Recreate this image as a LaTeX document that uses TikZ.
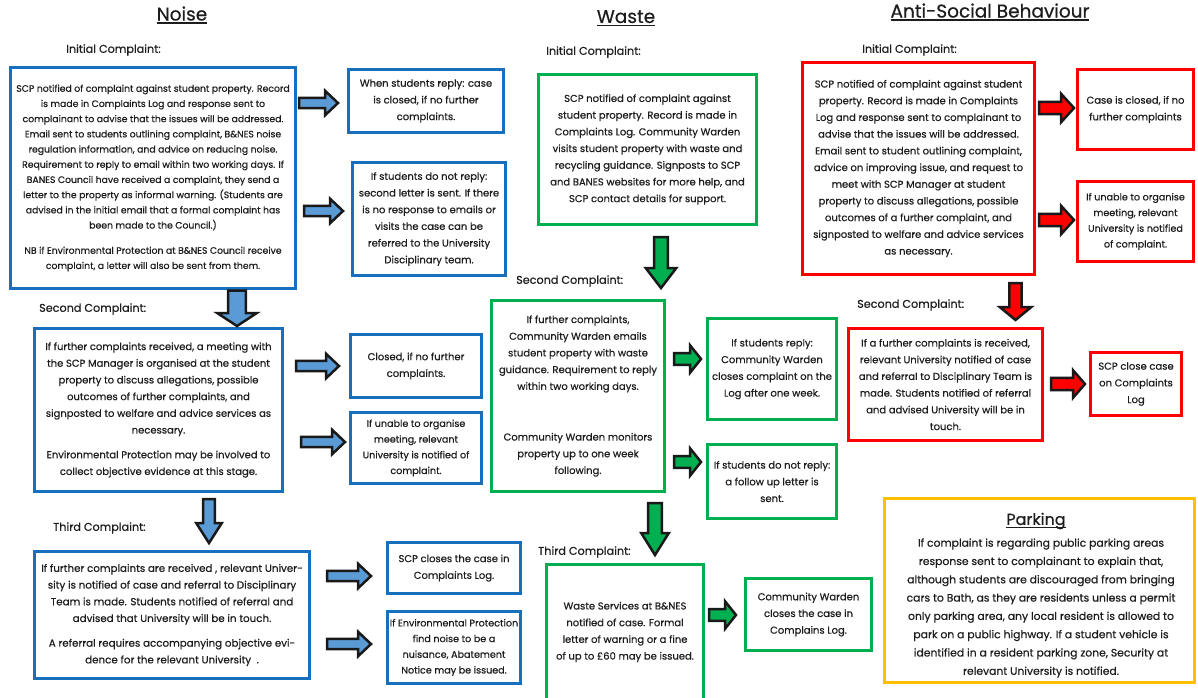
\documentclass[tikz,border=0pt]{standalone}
\usepackage{fontspec}
\setmainfont{Poppins}[FakeBold=0.5]
\usetikzlibrary{calc}
\definecolor{bblue}{RGB}{23,111,190}
\definecolor{afblue}{RGB}{91,155,213}
\definecolor{bgreen}{RGB}{0,176,80}
\definecolor{bred}{RGB}{255,0,0}
\definecolor{borange}{RGB}{255,192,0}
\definecolor{tcol}{RGB}{30,28,28}
\newcommand\myul[1]{\leavevmode\setbox0\hbox{#1}\rlap{\rule[-3pt]{\wd0}{1.3pt}}\box0}
\newcommand\fA{\fontsize{10}{16.7}\selectfont}
\newcommand\fB{\fontsize{9.3}{15.2}\selectfont}
\newcommand\fC{\fontsize{9.6}{15.7}\selectfont}
\newcommand\fP{\fontsize{10.8}{18.3}\selectfont}
\newcommand\fL{\fontsize{11.2}{12}\selectfont}
\newcommand\fT{\fontsize{18.5}{22}\selectfont}
% horizontal block arrow: from, to, y, gap start, gap end, fill, shaft half, head half, head length
\newcommand\hblock[9]{%
  \draw[blockarrow, fill=#6] let \p1=(#1.east), \p2=(#2.west), \p3=(0,#3) in
  (\x1+#4pt,\y3+#7pt) -- (\x2-#5pt-#9pt,\y3+#7pt) -- (\x2-#5pt-#9pt,\y3+#8pt) -- (\x2-#5pt,\y3)
  -- (\x2-#5pt-#9pt,\y3-#8pt) -- (\x2-#5pt-#9pt,\y3-#7pt) -- (\x1+#4pt,\y3-#7pt) -- cycle;}
% vertical block arrow: from, to, x, gap top, gap tip, fill, shaft half, head half, head length
\newcommand\vblock[9]{%
  \draw[blockarrow, fill=#6] let \p1=(#1.south), \p2=(#2.north), \p3=(#3,0) in
  (\x3-#7pt,\y1-#4pt) -- (\x3-#7pt,\y2+#5pt+#9pt) -- (\x3-#8pt,\y2+#5pt+#9pt) -- (\x3,\y2+#5pt)
  -- (\x3+#8pt,\y2+#5pt+#9pt) -- (\x3+#7pt,\y2+#5pt+#9pt) -- (\x3+#7pt,\y1-#4pt) -- cycle;}
\tikzset{
  box/.style={draw=#1, line width=3.2pt, fill=white, align=center, inner sep=0pt, text=tcol, font=\fA},
  blockarrow/.style={draw=black!90, line width=2.5pt, line join=miter},
  lbl/.style={anchor=west, inner sep=0pt, text=tcol, font=\fL},
  ttl/.style={inner sep=0pt, text=tcol, font=\fT},
}
\begin{document}
\begin{tikzpicture}[x=1pt,y=-1pt]
\fill[white] (0,0) rectangle (1198,697);
\useasboundingbox (0,0) rectangle (1198,697);

% titles
\node[ttl] (tnoise) at (182,15) {\myul{Noise}};
\node[ttl] (twaste) at (626,18) {\myul{Waste}};
\node[ttl] (tasb) at (990,12) {\myul{Anti-Social Behaviour}};

% labels
\node[lbl] (ln1) at (66,50) {Initial Complaint:};
\node[lbl] (ln2) at (39,309) {Second Complaint:};
\node[lbl] (ln3) at (53,528) {Third Complaint:};
\node[lbl] (lw1) at (546,52) {Initial Complaint:};
\node[lbl] (lw2) at (516,281) {Second Complaint:};
\node[lbl] (lw3) at (538,552) {Third Complaint:};
\node[lbl] (la1) at (862,50) {Initial Complaint:};
\node[lbl] (la2) at (857,305) {Second Complaint:};

% Noise
\node[box=bblue, font=\fB, minimum width=284.8, minimum height=220.8] (n1) at (153,178) {SCP notified of complaint against student property. Record\\ is made in Complaints Log and response sent to\\ complainant to advise that the issues will be addressed.\\ Email sent to students outlining complaint, B\&NES noise\\ regulation information, and advice on reducing noise.\\ Requirement to reply to email within two working days. If\\ BANES Council have received a complaint, they send a\\ letter to the property as informal warning. (Students are\\ advised in the initial email that a formal complaint has\\ been made to the Council.)\\[10pt] NB if Environmental Protection at B\&NES Council receive\\ complaint, a letter will also be sent from them.};
\node[box=bblue, minimum width=154.8, minimum height=62.8] (n1a) at (426,101) {When students reply: case\\ is closed, if no further\\ complaints.};
\node[box=bblue, minimum width=152.8, minimum height=112.8] (n1b) at (429,219) {If students do not reply:\\ second letter is sent. If there\\ is no response to emails or\\ visits the case can be\\ referred to the University\\ Disciplinary team.};
\node[box=bblue, minimum width=247.8, minimum height=162.8] (n2) at (158.5,410) {If further complaints received, a meeting with\\ the SCP Manager is organised at the student\\ property to discuss allegations, possible\\ outcomes of further complaints, and\\ signposted to welfare and advice services as\\ necessary.\\[8pt] Environmental Protection may be involved to\\ collect objective evidence at this stage.};
\node[box=bblue, minimum width=130.8, minimum height=62.8] (n2a) at (416,366) {Closed, if no further\\ complaints.};
\node[box=bblue, font=\fC, minimum width=130.8, minimum height=70.8] (n2b) at (416,448) {If unable to organise\\ meeting, relevant\\ University is notified of\\ complaint.};
\node[box=bblue, font=\fontsize{10.3}{16.7}\selectfont, minimum width=274.8, minimum height=126.8] (n3) at (172,615) {If further complaints are received , relevant Univer-\\ sity is notified of case and referral to Disciplinary\\ Team is made. Students notified of referral and\\ advised that University will be in touch.\\[8pt] A referral requires accompanying objective evi-\\ dence for the relevant University\ \ .};
\node[box=bblue, minimum width=132.8, minimum height=50.8] (n3a) at (454,568) {SCP closes the case in\\ Complaints Log.};
\node[box=bblue, font=\fC, minimum width=132.8, minimum height=71.8] (n3b) at (454,647.5) {If Environmental Protection\\ find noise to be a\\ nuisance, Abatement\\ Notice may be issued.};

% Waste
\node[box=bgreen, minimum width=217.8, minimum height=149.8] (w1) at (647.5,149.5) {SCP notified of complaint against\\ student property. Record is made in\\ Complaints Log. Community Warden\\ visits student property with waste and\\ recycling guidance. Signposts to SCP\\ and BANES websites for more help, and\\ SCP contact details for support.};
\node[box=bgreen, minimum width=172.8, minimum height=190.8] (w2) at (578,396) {If further complaints,\\ Community Warden emails\\ student property with waste\\ guidance. Requirement to reply\\ within two working days.\\[34pt] Community Warden monitors\\ property up to one week\\ following.};
\node[box=bgreen, minimum width=128.8, minimum height=100.8] (w2a) at (772,369) {If students reply:\\ Community Warden\\ closes complaint on the\\ Log after one week.};
\node[box=bgreen, minimum width=128.8, minimum height=73.8] (w2b) at (772,481.5) {If students do not reply:\\ a follow up letter is\\ sent.};
\node[box=bgreen, minimum width=156.8, minimum height=134.8] (w3) at (625,632) {Waste Services at B\&NES\\ notified of case. Formal\\ letter of warning or a fine\\ of up to £60 may be issued.};
\node[box=bgreen, minimum width=125.8, minimum height=71.8] (w3a) at (808.5,614.5) {Community Warden\\ closes the case in\\ Complains Log.};

% Anti-Social Behaviour
\node[box=bred, minimum width=231.8, minimum height=211.8] (a1) at (918.5,168.5) {SCP notified of complaint against student\\ property. Record is made in Complaints\\ Log and response sent to complainant to\\ advise that the issues will be addressed.\\ Email sent to student outlining complaint,\\ advice on improving issue, and request to\\ meet with SCP Manager at student\\ property to discuss allegations, possible\\ outcomes of a further complaint, and\\ signposted to welfare and advice services\\ as necessary.};
\node[box=bred, minimum width=115.8, minimum height=79.8] (a1a) at (1135.5,109.5) {Case is closed, if no\\ further complaints};
\node[box=bred, font=\fC, minimum width=115.8, minimum height=79.8] (a1b) at (1135.5,221.5) {If unable to organise\\ meeting, relevant\\ University is notified\\ of complaint.};
\node[box=bred, minimum width=193.8, minimum height=111.8] (a2) at (945.5,384.5) {If a further complaints is received,\\ relevant University notified of case\\ and referral to Disciplinary Team is\\ made. Students notified of referral\\ and advised University will be in\\ touch.};
\node[box=bred, minimum width=90.8, minimum height=62.8] (a2a) at (1136,384) {SCP close case\\ on Complaints\\ Log};

% Parking
\node[box=borange, line width=3pt, minimum width=310, minimum height=184] (park) at (1039.5,590.5) {};
\node[inner sep=0pt, text=tcol, font=\fontsize{16}{18}\selectfont] (ptitle) at (1036,521) {\myul{Parking}};
\node[inner sep=0pt, align=center, text=tcol, font=\fP] (ptext) at (1041,608) {If complaint is regarding public parking areas\\ response sent to complainant to explain that,\\ although students are discouraged from bringing\\ cars to Bath, as they are residents unless a permit\\ only parking area, any local resident is allowed to\\ park on a public highway. If a student vehicle is\\ identified in a resident parking zone, Security at\\ relevant University is notified.};

% block arrows
\hblock{n1}{n1a}{103}{2}{9}{afblue}{5.2}{12.3}{13}
\hblock{n1}{n1b}{211}{7}{8}{afblue}{5.2}{12.3}{13}
\hblock{n2}{n2a}{366}{12}{10}{afblue}{5.2}{12.3}{13}
\hblock{n2}{n2b}{442}{17}{4}{afblue}{5.2}{12.3}{13}
\hblock{n3}{n3a}{576}{16}{15}{afblue}{5.2}{12.3}{13}
\hblock{n3}{n3b}{644}{16}{15}{afblue}{5.2}{12.3}{13}
\hblock{w2}{w2a}{359}{8}{5}{bgreen}{5.8}{13.8}{11}
\hblock{w2}{w2b}{462}{8}{5}{bgreen}{5.8}{13.8}{11}
\hblock{w3}{w3a}{615}{4}{8}{bgreen}{5.8}{13.8}{11}
\hblock{a1}{a1a}{108}{3}{2}{bred}{6.2}{14.3}{13}
\hblock{a1}{a1b}{220}{3}{2}{bred}{6.2}{14.3}{13}
\hblock{a2}{a2a}{384}{7}{4}{bred}{6.2}{13.8}{12}
\vblock{n1}{n2}{237}{0.5}{1}{afblue}{8.8}{19.8}{13}
\vblock{n2}{n3}{209}{6}{7}{afblue}{5.8}{12.8}{20}
\vblock{w1}{w2}{661}{11}{11}{bgreen}{6.8}{15.3}{20}
\vblock{w2}{w3}{655}{10}{8}{bgreen}{6.8}{13.8}{22}
\vblock{a1}{a2}{1015.5}{7}{7}{bred}{6.2}{15.8}{13}
\end{tikzpicture}
\end{document}
